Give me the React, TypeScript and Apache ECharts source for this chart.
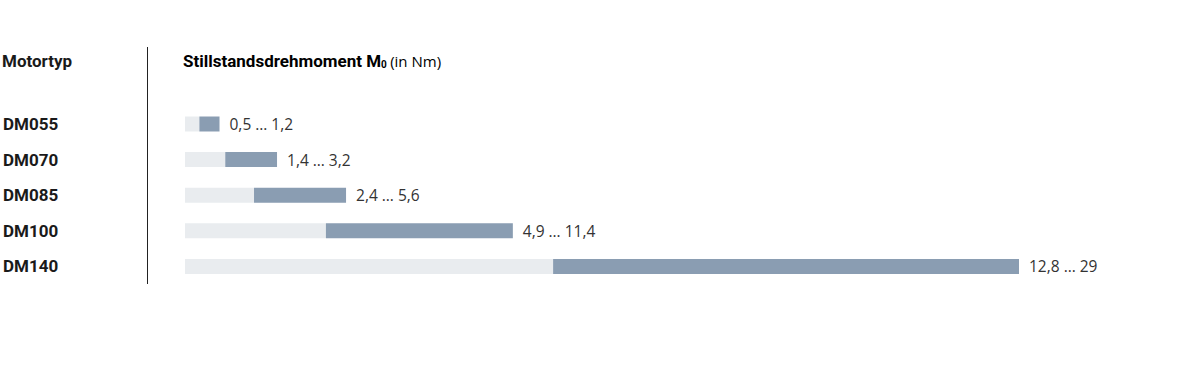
import React, { useEffect, useRef } from "react";
import * as echarts from "echarts";

const motorTypes = ["DM055", "DM070", "DM085", "DM100", "DM140"];
const torqueMin = [0.5, 1.4, 2.4, 4.9, 12.8];
const torqueMax = [1.2, 3.2, 5.6, 11.4, 29];

const fmt = (v: number) => String(v).replace(".", ",");

export default function App() {
  const ref = useRef<HTMLDivElement>(null);
  useEffect(() => {
    if (!ref.current) return;
    const chart = echarts.init(ref.current, undefined, { renderer: "svg" });
    const font = "'Open Sans', sans-serif";
    const boldFont = "Roboto, sans-serif";
    chart.setOption({
      animation: false,
      textStyle: { fontFamily: font },
      grid: { left: 184, width: 835, top: 106.2, height: 178 },
      xAxis: { type: "value", min: 0, max: 29, show: false },
      yAxis: {
        type: "category",
        inverse: true,
        data: motorTypes,
        axisLine: { show: false },
        axisTick: { show: false },
        splitLine: { show: false },
        axisLabel: {
          align: "left",
          margin: 182,
          fontFamily: boldFont,
          fontWeight: "bold",
          fontSize: 17,
          color: "#1a1a1a",
        },
      },
      series: [
        {
          type: "bar",
          stack: "t",
          barWidth: 15,
          itemStyle: { color: "#e9ecef" },
          data: torqueMin,
        },
        {
          type: "bar",
          stack: "t",
          barWidth: 15,
          itemStyle: { color: "#8a9db2" },
          data: torqueMax.map((v, i) => v - torqueMin[i]),
          label: {
            show: true,
            position: "right",
            distance: 10,
            fontFamily: font,
            fontSize: 15.5,
            color: "#333",
            formatter: (p: any) =>
              `${fmt(torqueMin[p.dataIndex])} … ${fmt(torqueMax[p.dataIndex])}`,
          },
        },
      ],
      graphic: [
        {
          type: "line",
          shape: { x1: 147.5, y1: 47, x2: 147.5, y2: 284 },
          style: { stroke: "#222", lineWidth: 1 },
        },
        {
          type: "text",
          x: 2,
          y: 61,
          style: {
            text: "Motortyp",
            fontFamily: boldFont,
            fontWeight: "bold",
            fontSize: 17,
            fill: "#1a1a1a",
            verticalAlign: "middle",
          },
        },
        {
          type: "text",
          x: 183,
          y: 61,
          style: {
            text: "{b|Stillstandsdrehmoment M}{s|0} {r|(in Nm)}",
            verticalAlign: "middle",
            rich: {
              b: { fontFamily: boldFont, fontWeight: "bold", fontSize: 17, color: "#1a1a1a" },
              s: { fontFamily: boldFont, fontWeight: "bold", fontSize: 10, color: "#1a1a1a", padding: [7, 0, 0, 0] },
              r: { fontFamily: font, fontSize: 15, color: "#333" },
            },
          },
        },
      ],
    });
    return () => chart.dispose();
  }, []);
  return (
    <div
      ref={ref}
      style={{ position: "absolute", left: 0, top: 0, width: 1200, height: 370, background: "#fff" }}
    />
  );
}
